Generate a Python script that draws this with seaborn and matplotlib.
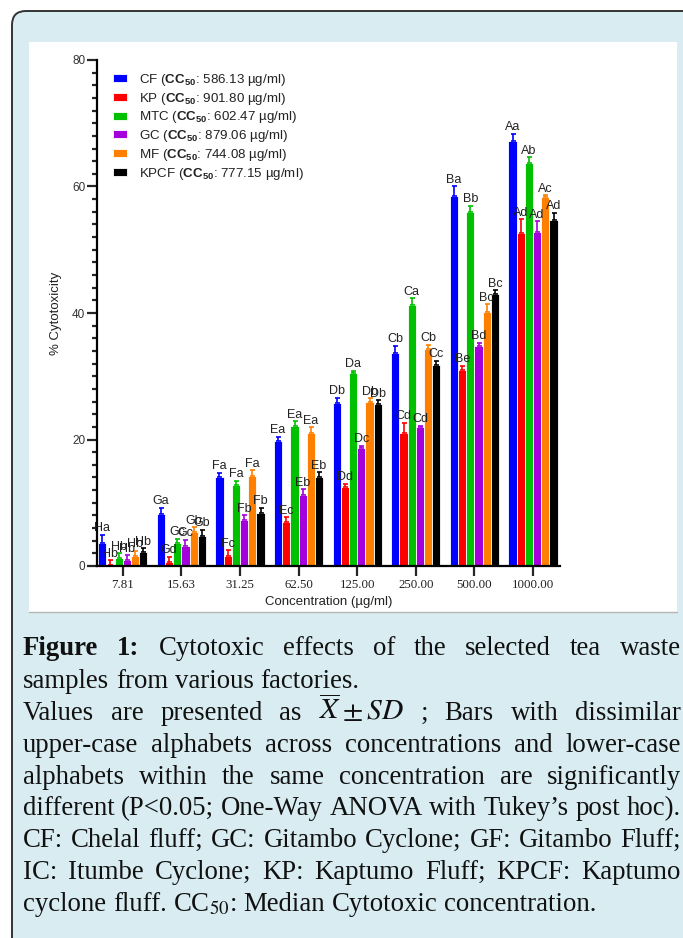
import numpy as np
import pandas as pd
import seaborn as sns
import matplotlib.pyplot as plt
from matplotlib.patches import FancyBboxPatch, Rectangle
from matplotlib.ticker import MultipleLocator

# data
concentrations = ['7.81', '15.63', '31.25', '62.50', '125.00', '250.00', '500.00', '1000.00']
samples = ['CF', 'KP', 'MTC', 'GC', 'MF', 'KPCF']
cc50 = ['586.13', '901.80', '602.47', '879.06', '744.08', '777.15']
colors = ['#0000ff', '#ff0000', '#00c000', '#a400dc', '#ff8000', '#000000']

cf_mean = [3.7, 8.3, 14.0, 19.8, 25.7, 33.7, 58.5, 67.2]
kp_mean = [0.1, 0.7, 1.6, 7.0, 12.5, 21.1, 31.0, 52.6]
mtc_mean = [1.3, 3.6, 12.8, 22.1, 30.5, 41.3, 55.9, 63.7]
gc_mean = [0.95, 3.2, 7.3, 11.3, 18.7, 22.0, 34.8, 52.8]
mf_mean = [1.6, 5.3, 14.3, 21.1, 25.9, 34.3, 40.2, 58.4]
kpcf_mean = [2.2, 4.8, 8.4, 14.1, 25.6, 31.7, 43.0, 54.7]

cf_sd = [1.2, 0.9, 0.7, 0.6, 0.9, 1.1, 1.5, 1.1]
kp_sd = [0.8, 0.8, 0.9, 0.7, 0.5, 1.5, 0.6, 2.2]
mtc_sd = [0.7, 0.7, 0.7, 0.8, 0.4, 1.0, 1.0, 0.9]
gc_sd = [0.75, 0.9, 0.7, 0.8, 0.3, 0.2, 0.5, 1.7]
mf_sd = [0.8, 0.8, 0.8, 0.8, 0.6, 0.7, 1.2, 0.2]
kpcf_sd = [0.6, 0.9, 0.8, 0.7, 0.6, 0.7, 0.6, 1.1]

cf_letters = ['Ha', 'Ga', 'Fa', 'Ea', 'Db', 'Cb', 'Ba', 'Aa']
kp_letters = ['Hb', 'Gd', 'Fc', 'Ec', 'Dd', 'Cd', 'Be', 'Ad']
mtc_letters = ['Hb', 'Gc', 'Fa', 'Ea', 'Da', 'Ca', 'Bb', 'Ab']
gc_letters = ['Hb', 'Gc', 'Fb', 'Eb', 'Dc', 'Cd', 'Bd', 'Ad']
mf_letters = ['Hb', 'Gb', 'Fa', 'Ea', 'Db', 'Cb', 'Bc', 'Ac']
kpcf_letters = ['Hb', 'Gb', 'Fb', 'Eb', 'Db', 'Cc', 'Bc', 'Ad']

means = [cf_mean, kp_mean, mtc_mean, gc_mean, mf_mean, kpcf_mean]
sds = [cf_sd, kp_sd, mtc_sd, gc_sd, mf_sd, kpcf_sd]
letters = [cf_letters, kp_letters, mtc_letters, gc_letters, mf_letters, kpcf_letters]

sns.set_theme(style='white')
plt.rcParams['font.family'] = ['Liberation Sans', 'DejaVu Sans']
plt.rcParams['mathtext.fontset'] = 'custom'
plt.rcParams['mathtext.rm'] = 'Liberation Sans'
plt.rcParams['mathtext.bf'] = 'Liberation Sans:bold'
plt.rcParams['mathtext.it'] = 'Liberation Sans:italic'

W, H = 683, 938
fig = plt.figure(figsize=(W / 100, H / 100), dpi=100)
fig.patch.set_facecolor('white')

# background layer in pixel units (y down)
bg = fig.add_axes([0, 0, 1, 1])
bg.set_xlim(0, W)
bg.set_ylim(H, 0)
bg.axis('off')
bg.add_patch(FancyBboxPatch((12, 11), 720, 1000, boxstyle='round,pad=0,rounding_size=14',
                            fc='#d8ecf1', ec='#333333', lw=1.4))
bg.add_patch(Rectangle((29, 42), 648, 570, fc='white', ec='none'))
bg.plot([29, 677], [612, 612], color='#b5b5b5', lw=1)

# main chart
ax = fig.add_axes([97 / W, 1 - 566 / H, (560 - 97) / W, (566 - 60) / H])
ax.set_facecolor('none')

rows = []
for s, vals in zip(samples, means):
    for c, v in zip(concentrations, vals):
        rows.append((c, s, v))
df = pd.DataFrame(rows, columns=['conc', 'sample', 'value'])

sns.barplot(data=df, x='conc', y='value', hue='sample', order=concentrations,
            hue_order=samples, palette=colors, width=0.84, errorbar=None,
            saturation=1, edgecolor='white', linewidth=0.6, ax=ax)

bars = list(ax.containers)
for cont, m, sd, col, lab in zip(bars, means, sds, colors, letters):
    xs = [p.get_x() + p.get_width() / 2 for p in cont.patches]
    ax.errorbar(xs, m, yerr=[np.zeros(len(sd)), sd], fmt='none', ecolor=col,
                elinewidth=1.2, capsize=1.8, capthick=1.2)
    for x, v, e, t in zip(xs, m, sd, lab):
        ax.text(x, v + e + 0.1, t, ha='center', va='bottom', fontsize=9, color='#222222')

ax.set_xlim(-0.44, 7.46)
ax.set_ylim(0, 80)
ax.set_yticks([0, 20, 40, 60, 80])
ax.yaxis.set_minor_locator(MultipleLocator(2))
for side in ['top', 'right']:
    ax.spines[side].set_visible(False)
for side in ['left', 'bottom']:
    ax.spines[side].set_color('black')
    ax.spines[side].set_linewidth(1.6)
ax.tick_params(axis='y', which='major', direction='out', length=7, width=1.6,
               pad=1.5, labelsize=8.5, labelcolor='#333333', left=True)
ax.tick_params(axis='y', which='minor', direction='out', length=3.6, width=1.6, left=True)
ax.tick_params(axis='x', which='major', direction='out', length=7, width=1.6,
               pad=2.5, labelsize=9.3, labelcolor='#222222', bottom=True)
for lbl in ax.get_xticklabels():
    lbl.set_fontfamily('Liberation Serif')

ax.set_xlabel('Concentration (µg/ml)', fontsize=9.5, color='#222222')
ax.xaxis.set_label_coords(0.5, -0.06)
ax.set_ylabel('% Cytotoxicity', fontsize=9.5, color='#222222')
ax.yaxis.set_label_coords(-0.076, 0.5)

handles, _ = ax.get_legend_handles_labels()
leg_labels = [s + r' ($\mathbf{CC_{50}}$: ' + v + ' µg/ml)' for s, v in zip(samples, cc50)]
ax.legend(handles, leg_labels, loc='upper left', bbox_to_anchor=(0.021, 0.99),
          frameon=False, fontsize=9.6, borderpad=0, handlelength=1.0, handleheight=0.55,
          handletextpad=0.95, labelspacing=0.21, labelcolor='#222222')

# caption, justified like the journal layout
renderer = fig.canvas.get_renderer()
cap_size = 19.3
cap_color = '#111111'
x0, x1 = 23, 681


def caption_line(y, words, justify):
    objs = []
    for w in words:
        if isinstance(w, tuple):
            text, kw = w
        else:
            text, kw = w, {}
        opts = dict(fontsize=cap_size, family='Liberation Serif', color=cap_color)
        opts.update(kw)
        objs.append(bg.text(0, y, text, va='baseline', ha='left', math_fontfamily='stix', **opts))
    widths = [t.get_window_extent(renderer).width for t in objs]
    space = cap_size * 100 / 72 * 0.25
    if justify and len(objs) > 1:
        gap = max((x1 - x0 - sum(widths)) / (len(objs) - 1), 2)
    else:
        gap = space
    x = x0
    for t, w in zip(objs, widths):
        t.set_x(x)
        x += w + gap


bold = {'fontweight': 'bold'}
lines = [
    ([('Figure', bold), ('1:', bold), 'Cytotoxic', 'effects', 'of', 'the', 'selected', 'tea', 'waste'], True),
    (['samples', 'from', 'various', 'factories.'], False),
    (['Values', 'are', 'presented', 'as', (r'$\overline{X}\pm SD$', {'fontsize': cap_size * 1.1}), ';',
      'Bars', 'with', 'dissimilar'], True),
    (['upper-case', 'alphabets', 'across', 'concentrations', 'and', 'lower-case'], True),
    (['alphabets', 'within', 'the', 'same', 'concentration', 'are', 'significantly'], True),
    (['different', '(P<0.05;', 'One-Way', 'ANOVA', 'with', 'Tukey’s', 'post', 'hoc).'], True),
    (['CF:', 'Chelal', 'fluff;', 'GC:', 'Gitambo', 'Cyclone;', 'GF:', 'Gitambo', 'Fluff;'], True),
    (['IC:', 'Itumbe', 'Cyclone;', 'KP:', 'Kaptumo', 'Fluff;', 'KPCF:', 'Kaptumo'], True),
    (['cyclone', 'fluff.', r'CC$_{50}$:', 'Median', 'Cytotoxic', 'concentration.'], False),
]
baselines = [655, 688, 720, 752, 784, 815, 847, 879, 911]
for (words, just), yb in zip(lines, baselines):
    caption_line(yb, words, just)

fig.savefig('out.png', dpi=100)
